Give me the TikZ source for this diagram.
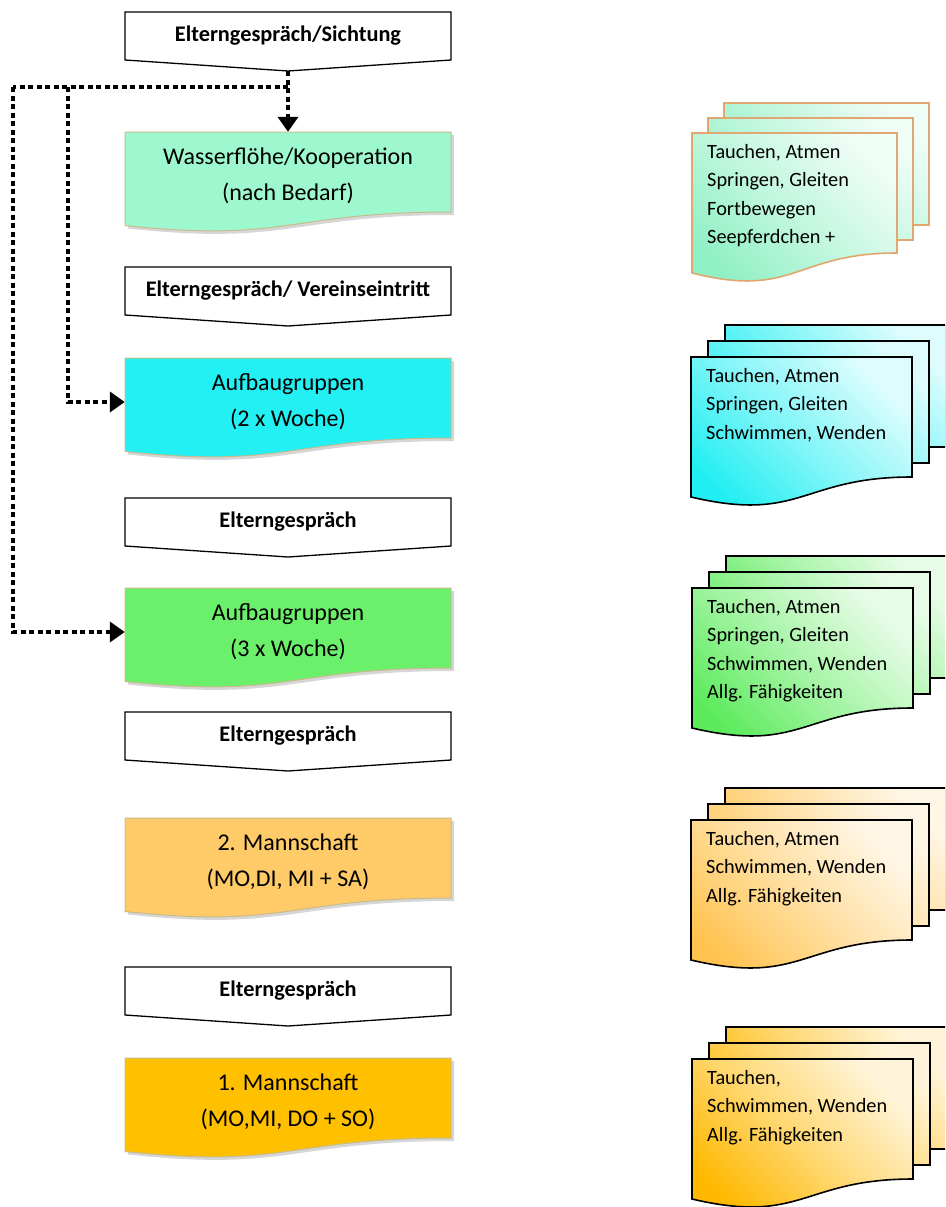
\documentclass[tikz,border=0pt]{standalone}
\usepackage{fontspec}
\setmainfont{Carlito}
\usetikzlibrary{arrows.meta,calc}
\definecolor{dMint}{HTML}{9EF8CF}
\definecolor{dCyan}{HTML}{22F0F2}
\definecolor{dGreen}{HTML}{6BF06B}
\definecolor{dOrange}{HTML}{FFCB69}
\definecolor{dGold}{HTML}{FFC000}
\definecolor{rMint}{HTML}{8FF0C4}
\definecolor{rCyan}{HTML}{20EEF2}
\definecolor{rGreen}{HTML}{5CEB5C}
\definecolor{rOrange}{HTML}{FFC350}
\definecolor{rGold}{HTML}{FFB800}
\definecolor{docedge}{HTML}{C8BC8C}
\definecolor{tanedge}{HTML}{E0A870}

\newcommand\pent[3]{%
  \draw[pentbox] (125,-#2) -- (451,-#2) -- (451,-#2-48) -- (288,-#2-59) -- (125,-#2-48) -- cycle;
  \node[pentlabel] (#1) at (288,-#2-24) {#3};
  \coordinate (#1tip) at (288,-#2-59);
}
\newcommand\ldoc[4]{%
  \fill[black!16] (128,-#2-3) -- (454,-#2-3) -- (454,-#2-83) .. controls (291,-#2-83) and (291,-#2-114) .. (128,-#2-96.5) -- cycle;
  \draw[draw=docedge, line width=1pt, fill=#3] (125,-#2) -- (451,-#2) -- (451,-#2-80) .. controls (288,-#2-80) and (288,-#2-111) .. (125,-#2-93.5) -- cycle;
  \node[doclabel] (#1) at (288,-#2-44) {#4};
}
\newcommand\rdoc[8]{%
  \shadedraw[rshade=#5, draw=#6, line width=1.6pt] (#2+2*#8,-#3+2*#8-2) rectangle (#2+2*#8+#4,-#3+2*#8-2-122);
  \shadedraw[rshade=#5, draw=#6, line width=1.6pt] (#2+#8,-#3+#8-1) rectangle (#2+#8+#4,-#3+#8-1-122);
  \shadedraw[rshade=#5, draw=#6, line width=1.6pt] (#2,-#3) -- (#2+#4,-#3) -- (#2+#4,-#3-120)
     .. controls (#2+#4/2,-#3-120) and (#2+#4/2,-#3-166) .. (#2,-#3-140) -- cycle;
  \node[rdoclabel] (#1) at (#2+15,-#3-11) {#7};
}

\begin{document}
\begin{tikzpicture}[x=1pt,y=1pt,
  pentbox/.style={draw=black, line width=1.3pt, fill=white},
  pentlabel/.style={font=\bfseries\fontsize{22.3}{26}\selectfont, minimum width=326pt, minimum height=48pt, inner sep=0pt},
  doclabel/.style={font=\fontsize{24}{36}\selectfont, align=center, minimum width=326pt, minimum height=88pt, inner sep=0pt},
  rdoclabel/.style={font=\fontsize{20.3}{28.5}\selectfont, align=left, anchor=north west, inner sep=0pt},
  rshade/.style={top color=#1!15!white, bottom color=#1, middle color=#1!55!white, shading angle=-45},
  dotconn/.style={line width=4.5pt, dash pattern=on 5pt off 3.5pt},
  tipA/.style={-{Triangle[length=15pt,width=20pt]}}
]
\useasboundingbox (0,0) rectangle (945,-1207);
\clip (0,0) rectangle (945,-1207);

% left column
\pent{p1}{12}{Elterngespräch/Sichtung}
\ldoc{d1}{132}{dMint}{Wasserflöhe/Kooperation\\(nach Bedarf)}
\pent{p2}{267}{Elterngespräch/ Vereinseintritt}
\ldoc{d2}{358}{dCyan}{Aufbaugruppen\\(2 x Woche)}
\pent{p3}{498}{Elterngespräch}
\ldoc{d3}{588}{dGreen}{Aufbaugruppen\\(3 x Woche)}
\pent{p4}{712}{Elterngespräch}
\ldoc{d4}{818}{dOrange}{2. Mannschaft\\(MO,DI, MI + SA)}
\pent{p5}{967}{Elterngespräch}
\ldoc{d5}{1058}{dGold}{1. Mannschaft\\(MO,MI, DO + SO)}

% right column
\rdoc{r1}{692}{133}{205}{rMint}{tanedge}{Tauchen, Atmen\\Springen, Gleiten\\Fortbewegen\\Seepferdchen +}{16}
\rdoc{r2}{691}{357}{221}{rCyan}{black}{Tauchen, Atmen\\Springen, Gleiten\\Schwimmen, Wenden}{17}
\rdoc{r3}{692}{588}{221}{rGreen}{black}{Tauchen, Atmen\\Springen, Gleiten\\Schwimmen, Wenden\\Allg. Fähigkeiten}{17}
\rdoc{r4}{691}{820}{221}{rOrange}{black}{Tauchen, Atmen\\Schwimmen, Wenden\\Allg. Fähigkeiten}{17}
\rdoc{r5}{692}{1059}{221}{rGold}{black}{Tauchen,\\Schwimmen, Wenden\\Allg. Fähigkeiten}{17}

% dotted connectors
\coordinate (j1) at (288,-87);
\coordinate (cL) at (13,-87);
\coordinate (cM) at (68,-87);
\draw[dotconn, tipA] (p1tip) -- (d1.north);
\draw[dotconn] (j1) -- (cL);
\draw[dotconn, tipA] (cM) |- (d2.west);
\draw[dotconn, tipA] (cL) |- (d3.west);
\end{tikzpicture}
\end{document}
